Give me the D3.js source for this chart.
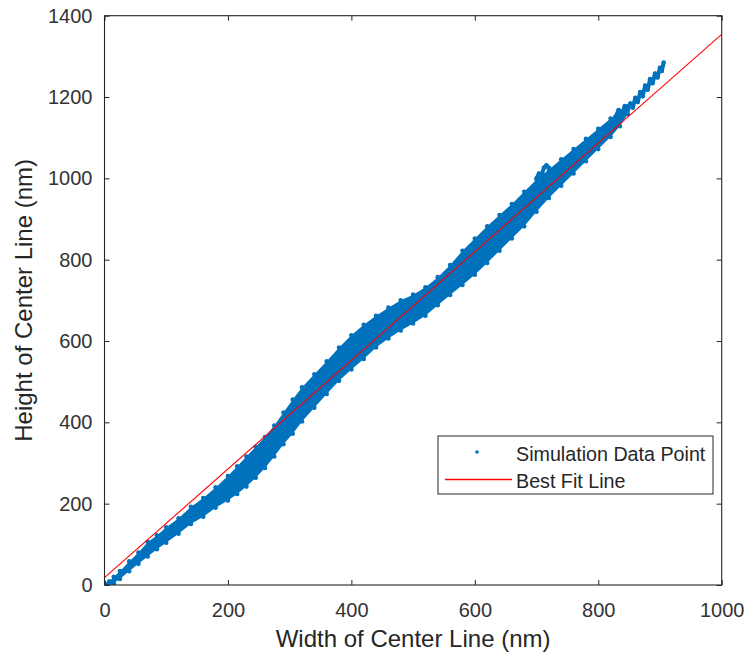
<!DOCTYPE html>
<html>
<head>
<meta charset="utf-8">
<script src="https://cdn.jsdelivr.net/npm/d3@7"></script>
<style>
  html, body { margin: 0; padding: 0; background: #fff; }
  svg { display: block; font-family: "Liberation Sans", Arial, Helvetica, sans-serif; }
</style>
</head>
<body>
<svg id="chart" width="749" height="656"></svg>
<script>
// ---------------- data ----------------
const xTicks = [0, 200, 400, 600, 800, 1000];
const yTicks = [0, 200, 400, 600, 800, 1000, 1200, 1400];

// dense cloud of simulation points: lower / upper envelope [width, height]
const bandX     = [0, 8, 15, 25, 40, 55, 70, 85, 100, 120, 140, 160, 180, 200, 215, 230, 245, 260, 275, 290, 305, 320, 340, 360, 380, 400, 420, 440, 460, 480, 500, 520, 540, 560, 580, 600, 620, 640, 660, 680, 700, 720, 740, 760, 780, 800, 820, 835, 848];
const bandLower = [0, 0, 4, 15, 34, 52, 70, 88, 104, 126, 150, 168, 190, 208, 224, 242, 264, 288, 316, 346, 372, 402, 436, 470, 502, 530, 556, 584, 606, 626, 643, 662, 688, 713, 738, 763, 792, 822, 852, 882, 918, 952, 982, 1012, 1042, 1072, 1102, 1128, 1158];
const bandUpper = [4, 9, 20, 34, 58, 80, 106, 122, 142, 164, 192, 214, 240, 268, 292, 316, 340, 364, 392, 424, 456, 486, 518, 550, 584, 614, 640, 662, 682, 700, 714, 732, 757, 787, 822, 852, 882, 910, 937, 967, 997, 1022, 1047, 1072, 1097, 1122, 1147, 1164, 1177];

// sparse traces sticking out of the cloud
const tailX = [828, 833, 838, 843, 848, 852, 856, 860, 864, 868, 872, 876, 880, 884, 888, 892, 896, 900, 903, 906];
const tailY = [1152, 1168, 1158, 1178, 1168, 1184, 1174, 1198, 1188, 1212, 1202, 1228, 1218, 1244, 1234, 1258, 1248, 1272, 1264, 1285];
const spikeX = [700, 704, 708, 712, 716, 720, 724];
const spikeY = [1000, 1012, 1008, 1026, 1032, 1026, 1018];

// best fit line endpoints
const fitX = [0, 1000];
const fitY = [18, 1354];

// ---------------- layout ----------------
const svg = d3.select("#chart");
const L = 104.5, R = 721.7, T = 15.7, B = 585;
const x = d3.scaleLinear().domain([0, 1000]).range([L, R]);
const y = d3.scaleLinear().domain([0, 1400]).range([B, T]);

const blue = "#0072BD", red = "#FF0000", axisCol = "#262626";

const plot = svg.append("g");
plot.append("clipPath").attr("id", "clip").append("rect")
  .attr("x", L).attr("y", T).attr("width", R - L).attr("height", B - T);
const g = plot.append("g").attr("clip-path", "url(#clip)");

// cloud area
const band = bandX.map((d, i) => ({ x: d, lo: bandLower[i], hi: bandUpper[i] }));
g.append("path").datum(band)
  .attr("fill", blue)
  .attr("d", d3.area().x(d => x(d.x)).y0(d => y(d.lo)).y1(d => y(d.hi)));

// edge points of the cloud
const edgePts = [];
band.forEach(d => { edgePts.push([d.x, d.lo]); edgePts.push([d.x, d.hi]); });
tailX.forEach((d, i) => edgePts.push([d, tailY[i]]));
spikeX.forEach((d, i) => edgePts.push([d, spikeY[i]]));
g.selectAll("circle.pt").data(edgePts).join("circle")
  .attr("class", "pt")
  .attr("cx", d => x(d[0])).attr("cy", d => y(d[1])).attr("r", 2.3)
  .attr("fill", blue);

// tail / spike traces
const lineGen = d3.line().x(d => x(d[0])).y(d => y(d[1]));
g.append("path").datum(tailX.map((d, i) => [d, tailY[i]]))
  .attr("fill", "none").attr("stroke", blue).attr("stroke-width", 4)
  .attr("stroke-linejoin", "round").attr("d", lineGen);
g.append("path").datum(spikeX.map((d, i) => [d, spikeY[i]]))
  .attr("fill", "none").attr("stroke", blue).attr("stroke-width", 4)
  .attr("stroke-linejoin", "round").attr("d", lineGen);

// best fit line
g.append("path").datum(fitX.map((d, i) => [d, fitY[i]]))
  .attr("fill", "none").style("stroke", red).attr("stroke-width", 1.1)
  .attr("d", lineGen);

// ---------------- axes ----------------
const fs = 20;
const xb = svg.append("g").attr("transform", `translate(0,${B})`)
  .call(d3.axisBottom(x).tickValues(xTicks).tickFormat(d3.format("d"))
    .tickSizeInner(-5).tickSizeOuter(0).tickPadding(18));
const yl = svg.append("g").attr("transform", `translate(${L},0)`)
  .call(d3.axisLeft(y).tickValues(yTicks).tickFormat(d3.format("d"))
    .tickSizeInner(-5).tickSizeOuter(0).tickPadding(12));
const xt = svg.append("g").attr("transform", `translate(0,${T})`)
  .call(d3.axisTop(x).tickValues(xTicks).tickFormat("")
    .tickSizeInner(-5).tickSizeOuter(0));
const yr = svg.append("g").attr("transform", `translate(${R},0)`)
  .call(d3.axisRight(y).tickValues(yTicks).tickFormat("")
    .tickSizeInner(-5).tickSizeOuter(0));
[xb, yl, xt, yr].forEach(a => {
  a.select(".domain").remove();
  a.selectAll(".tick line").attr("stroke", axisCol).attr("stroke-width", 1);
  a.selectAll(".tick text").attr("fill", "#333").style("font-size", fs + "px")
    .style("font-family", "'Liberation Sans', Arial, sans-serif");
});
svg.append("rect").attr("x", L).attr("y", T).attr("width", R - L).attr("height", B - T)
  .attr("fill", "none").attr("stroke", axisCol).attr("stroke-width", 1.1);

// axis labels
svg.append("text").attr("x", (L + R) / 2).attr("y", 647)
  .attr("text-anchor", "middle").attr("fill", "#262626")
  .style("font-size", "24px").text("Width of Center Line (nm)");
svg.append("text").attr("transform", `translate(32,${(T + B) / 2}) rotate(-90)`)
  .attr("text-anchor", "middle").attr("fill", "#262626")
  .style("font-size", "24px").text("Height of Center Line (nm)");

// ---------------- legend ----------------
const lg = svg.append("g");
lg.append("rect").attr("x", 438).attr("y", 436).attr("width", 275).attr("height", 58)
  .attr("fill", "#fff").attr("stroke", axisCol).attr("stroke-width", 1);
lg.append("circle").attr("cx", 477).attr("cy", 452).attr("r", 1.8).attr("fill", blue);
lg.append("path").attr("d", "M445,479.5H512")
  .style("stroke", red).style("stroke-width", "1.3px").style("fill", "none");
lg.append("text").attr("x", 516).attr("y", 460.5).attr("fill", "#262626")
  .style("font-size", "19.7px").text("Simulation Data Point");
lg.append("text").attr("x", 516).attr("y", 487.5).attr("fill", "#262626")
  .style("font-size", "19.7px").text("Best Fit Line");
</script>
</body>
</html>
